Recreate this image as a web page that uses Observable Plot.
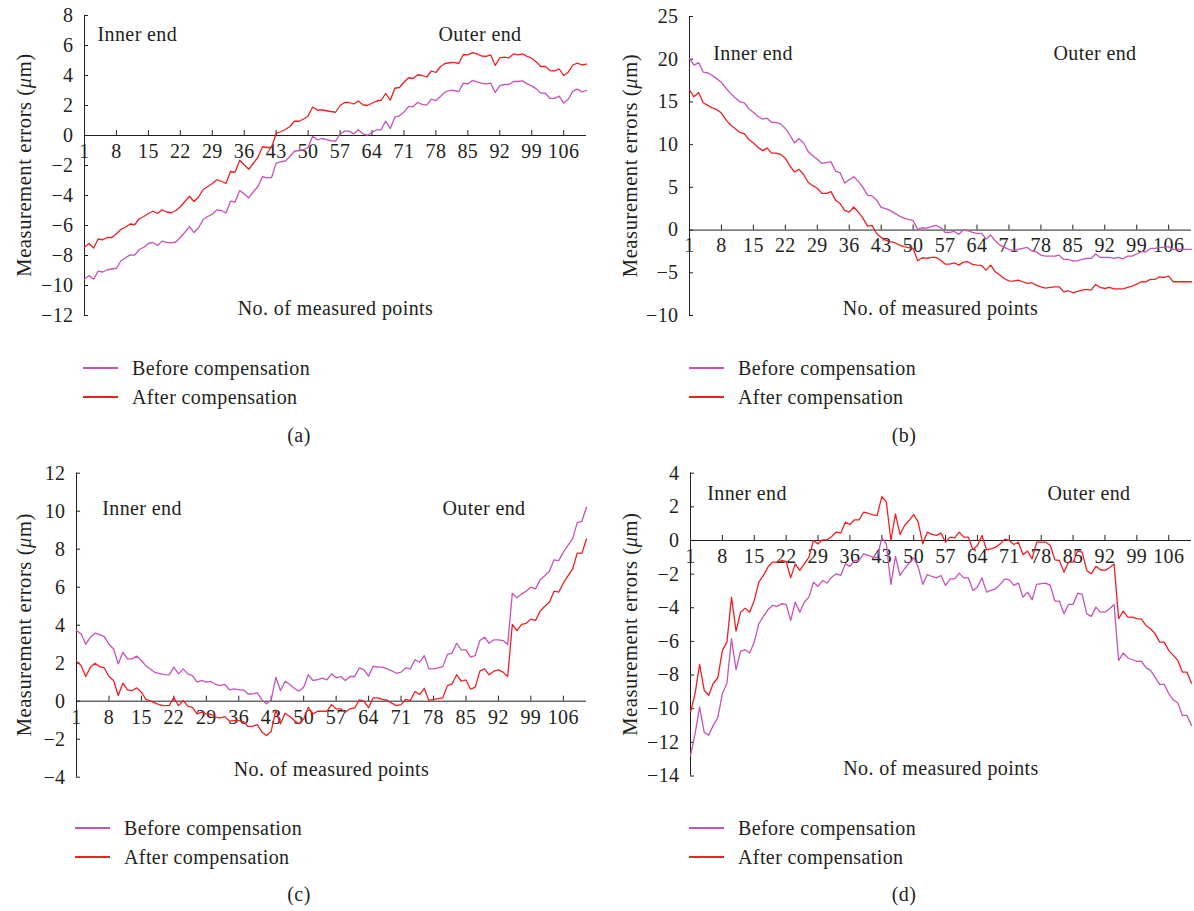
<!DOCTYPE html>
<html><head><meta charset="utf-8">
<script src="https://cdn.jsdelivr.net/npm/d3@7"></script>
<script src="https://cdn.jsdelivr.net/npm/@observablehq/plot@0.6"></script>
<style>
body{margin:0;background:#fff;}
#page{position:relative;width:1194px;height:911px;font-family:"Liberation Serif",serif;color:#231f20;letter-spacing:0.4px;background:#fff;}
.panel{position:absolute;}
.row{position:absolute;height:20px;display:flex;align-items:center;font-size:20px;white-space:nowrap;}
.sw{display:inline-block;width:35px;height:1.5px;margin-right:14px;}
.cap{position:absolute;font-size:20px;transform:translate(-50%,-50%);white-space:nowrap;}
</style></head><body><div id="page"></div>
<script>
// ---- data ----
const pointNo = d3.range(1, 112); // measured points 1..111
const xTickLabels = [1, 8, 15, 22, 29, 36, 43, 50, 57, 64, 71, 78, 85, 92, 99, 106];
const seriesNames = ["Before compensation", "After compensation"];
const panelLetters = ["(a)", "(b)", "(c)", "(d)"];

const yTicksA = [8, 6, 4, 2, 0, -2, -4, -6, -8, -10, -12];
const yTicksB = [25, 20, 15, 10, 5, 0, -5, -10];
const yTicksC = [12, 10, 8, 6, 4, 2, 0, -2, -4];
const yTicksD = [4, 2, 0, -2, -4, -6, -8, -10, -12, -14];

const beforeA = [-9.56,-9.33,-9.58,-9.04,-9.1,-8.95,-8.9,-8.85,-8.35,-8.15,
-7.96,-7.98,-7.6,-7.45,-7.2,-7.13,-7.33,-7.04,-7.13,-7.16,
-7.1,-6.8,-6.45,-6.07,-6.47,-6.15,-5.6,-5.4,-5.25,-4.96,
-5.0,-5.16,-4.38,-4.44,-3.67,-3.89,-4.16,-3.75,-3.4,-2.75,
-2.82,-2.8,-1.84,-1.75,-1.7,-1.4,-1.05,-1.0,-0.95,-0.78,
-0.05,-0.29,-0.2,-0.28,-0.35,-0.38,0.1,0.29,0.29,0.11,
0.38,0.11,0.02,0.2,0.38,0.38,0.96,0.47,1.22,1.31,
1.56,1.93,1.93,2.2,2.07,2.02,2.42,2.33,2.6,2.89,
3.0,3.0,2.93,3.49,3.44,3.67,3.58,3.49,3.44,3.49,
2.87,3.33,3.4,3.4,3.6,3.6,3.64,3.44,3.31,3.11,
2.82,2.82,2.47,2.47,2.62,2.16,2.42,2.96,3.09,2.91,
3.0];
const afterA = [-7.44,-7.2,-7.5,-6.9,-6.95,-6.8,-6.8,-6.55,-6.25,-6.1,
-5.9,-5.95,-5.55,-5.4,-5.2,-5.05,-5.2,-4.95,-5.1,-5.15,
-5.0,-4.75,-4.4,-4.05,-4.4,-4.1,-3.6,-3.4,-3.2,-2.95,
-3.05,-3.2,-2.4,-2.45,-1.65,-1.95,-2.25,-1.85,-1.45,-0.75,
-0.8,-0.8,0.15,0.25,0.4,0.6,0.95,0.95,1.1,1.3,
1.9,1.7,1.7,1.65,1.6,1.55,2.0,2.2,2.2,2.1,
2.3,2.05,2.0,2.15,2.3,2.35,2.8,2.35,3.15,3.2,
3.55,3.85,3.8,4.05,4.0,3.9,4.3,4.2,4.6,4.8,
4.85,4.87,4.8,5.4,5.38,5.53,5.44,5.3,5.27,5.38,
4.67,5.18,5.22,5.18,5.44,5.38,5.44,5.27,5.15,4.9,
4.6,4.6,4.33,4.3,4.44,4.0,4.22,4.7,4.82,4.7,
4.76];

const beforeB = [20.1,19.3,19.6,18.5,18.4,18.1,17.7,17.3,16.6,16.0,
15.5,15.05,14.9,14.2,13.8,13.3,13.0,13.1,12.6,12.6,
12.4,11.9,11.1,10.2,10.7,10.2,9.2,8.7,8.3,7.8,
7.9,8.0,6.9,6.7,5.5,5.9,6.25,5.7,5.0,4.1,
4.0,3.5,2.66,2.5,2.27,1.95,1.64,1.4,1.25,1.1,
0.08,0.27,0.23,0.39,0.55,0.3,-0.27,-0.27,-0.16,-0.5,
0.0,-0.08,-0.27,-0.39,-0.39,-1.05,-0.59,-1.25,-1.76,-2.03,
-2.27,-2.42,-2.27,-2.15,-2.03,-2.42,-2.54,-2.93,-3.05,-3.05,
-3.05,-2.93,-3.44,-3.44,-3.6,-3.6,-3.44,-3.32,-3.32,-2.8,
-3.2,-3.2,-3.2,-3.32,-3.2,-3.36,-3.05,-3.05,-2.8,-2.54,
-2.54,-2.15,-2.15,-2.03,-2.03,-1.95,-2.27,-2.27,-2.27,-2.27,
-2.27];
const afterB = [16.4,15.6,16.1,14.9,14.6,14.3,14.1,13.7,12.9,12.3,
11.9,11.45,11.3,10.6,10.2,9.7,9.3,9.6,9.0,9.0,
8.85,8.4,7.5,6.8,7.1,6.5,5.6,5.2,4.9,4.3,
4.3,4.5,3.5,3.1,2.3,2.1,2.7,2.1,1.4,0.47,
0.55,-0.4,-0.86,-1.17,-1.35,-1.48,-1.76,-1.95,-2.05,-2.15,
-3.6,-3.24,-3.32,-3.2,-3.2,-3.5,-3.98,-3.98,-3.83,-4.1,
-3.75,-3.71,-4.02,-4.1,-4.14,-4.69,-4.1,-4.88,-5.27,-5.7,
-5.94,-5.98,-5.86,-6.05,-6.25,-6.17,-6.45,-6.64,-6.8,-6.72,
-6.64,-6.64,-7.23,-7.1,-7.34,-7.19,-7.03,-6.95,-7.03,-6.37,
-6.72,-6.84,-6.72,-6.88,-6.88,-6.88,-6.72,-6.56,-6.33,-6.05,
-6.05,-5.78,-5.78,-5.47,-5.55,-5.39,-6.05,-6.05,-6.05,-6.05,
-6.05];

const beforeC = [3.72,3.54,3.0,3.37,3.58,3.5,3.4,3.0,2.75,1.96,
2.58,2.23,2.23,2.37,2.14,1.85,1.68,1.5,1.45,1.4,
1.39,1.79,1.44,1.7,1.44,1.35,1.0,1.1,1.0,1.04,
0.88,0.82,0.88,0.6,0.65,0.6,0.6,0.38,0.39,0.44,
0.07,-0.14,0.07,1.26,0.56,1.05,0.88,0.67,0.53,0.74,
1.39,1.09,1.14,1.21,1.12,1.44,1.23,1.3,1.09,1.3,
1.3,1.75,1.65,1.32,1.84,1.79,1.79,1.7,1.6,1.47,
1.53,1.75,1.7,2.18,2.05,2.4,1.7,1.7,1.75,1.82,
2.46,2.53,3.05,2.7,2.7,2.32,2.4,3.19,3.37,3.05,
3.23,3.23,3.19,2.98,5.68,5.44,5.65,5.79,6.0,5.91,
6.39,6.6,6.84,7.44,7.4,7.84,8.2,8.54,9.4,9.47,
10.21];
const afterC = [2.1,1.88,1.3,1.79,2.0,1.82,1.75,1.3,1.09,0.3,
0.95,0.6,0.56,0.7,0.47,0.1,0.0,-0.1,-0.2,-0.23,
-0.23,0.21,-0.23,0.04,-0.26,-0.32,-0.67,-0.58,-0.67,-0.7,
-0.84,-0.88,-0.81,-1.05,-1.02,-1.02,-1.07,-1.33,-1.32,-1.23,
-1.63,-1.81,-1.58,-0.46,-1.19,-0.63,-0.81,-1.02,-1.19,-0.93,
-0.32,-0.67,-0.53,-0.53,-0.53,-0.18,-0.4,-0.4,-0.58,-0.4,
-0.35,0.07,0.0,-0.35,0.18,0.18,0.1,0.05,-0.1,-0.23,
-0.18,0.1,0.04,0.51,0.35,0.68,0.04,0.1,0.14,0.18,
0.82,0.91,1.39,1.05,1.12,0.63,0.74,1.58,1.7,1.39,
1.58,1.65,1.53,1.3,4.04,3.72,4.04,4.1,4.32,4.25,
4.74,5.0,5.21,5.79,5.74,6.21,6.6,6.96,7.79,7.79,
8.54];

const beforeD = [-12.77,-11.5,-9.9,-11.39,-11.58,-10.99,-10.53,-9.1,-8.48,-5.84,
-7.68,-6.57,-6.5,-6.69,-6.04,-4.95,-4.51,-4.12,-3.86,-3.92,
-3.76,-3.8,-4.75,-3.66,-4.26,-3.66,-3.37,-2.48,-2.73,-2.38,
-2.53,-2.18,-1.98,-2.08,-1.39,-1.54,-1.19,-1.19,-0.79,-0.89,
-0.99,-1.0,0.16,-0.2,-2.61,-0.95,-2.08,-1.68,-1.35,-1.03,
-1.58,-2.61,-2.02,-2.14,-2.22,-2.08,-2.67,-2.28,-2.28,-1.94,
-2.22,-2.22,-2.97,-2.77,-2.22,-3.07,-2.97,-2.87,-2.61,-2.28,
-2.34,-2.67,-2.53,-3.37,-3.07,-3.52,-2.61,-2.57,-2.53,-2.67,
-3.6,-3.6,-4.36,-3.8,-3.8,-3.13,-3.21,-4.36,-4.51,-3.96,
-4.26,-4.26,-4.06,-3.8,-7.13,-6.69,-6.97,-7.09,-7.19,-7.17,
-7.56,-7.72,-8.12,-8.55,-8.55,-9.1,-9.47,-9.66,-10.4,-10.4,
-10.99];
const afterD = [-10.2,-9.1,-7.37,-8.9,-9.2,-8.5,-8.16,-6.53,-6.04,-3.37,
-5.39,-4.26,-4.02,-4.26,-3.56,-2.48,-2.08,-1.58,-1.29,-1.29,
-1.19,-1.25,-2.22,-1.39,-1.78,-1.39,-0.99,0.0,-0.2,0.04,
0.04,0.24,0.5,0.44,1.09,0.95,1.23,1.23,1.68,1.62,
1.52,1.5,2.61,2.28,0.0,1.58,0.36,0.89,1.2,1.54,
1.09,-0.2,0.5,0.36,0.3,0.44,-0.1,0.2,0.16,0.5,
0.2,0.2,-0.55,-0.3,0.3,-0.55,-0.5,-0.4,-0.2,0.08,
0.0,-0.24,-0.1,-0.85,-0.63,-1.09,-0.1,-0.1,-0.1,-0.3,
-1.15,-1.19,-1.88,-1.29,-1.29,-0.63,-0.69,-1.78,-1.98,-1.54,
-1.74,-1.78,-1.62,-1.39,-4.65,-4.2,-4.55,-4.55,-4.65,-4.67,
-5.05,-5.25,-5.54,-6.04,-6.04,-6.53,-6.83,-7.13,-7.82,-7.82,
-8.48];

// ---- styling / layout ----
const PURPLE = "#c653b6", RED = "#ee2024", INK = "#231f20";
const FONT = '"Liberation Serif", serif';

const panels = [
  {before: beforeA, after: afterA, yDomain: [-12, 8], yTicks: yTicksA, left: 0, top: 0,
   mt: 15, mb: 15, ml: 84, mr: 11, titleX: 31, inner: [13, 11.7], outer: [-65, 11.7],
   legX: 83, legY: [368, 397], cap: [299, 435]},
  {before: beforeB, after: afterB, yDomain: [-10, 25], yTicks: yTicksB, left: 597, top: 0,
   mt: 16, mb: 15, ml: 92, mr: 3, titleX: 39.5, inner: [23.7, 29.7], outer: [-55, 29.7],
   legX: 689, legY: [368, 397], cap: [904, 435]},
  {before: beforeC, after: afterC, yDomain: [-4, 12], yTicks: yTicksC, left: 0, top: 460,
   mt: 12.7, mb: 13.3, ml: 76, mr: 11, titleX: 31, inner: [25.7, 28], outer: [-61, 28],
   legX: 75, legY: [828, 857], cap: [299, 894]},
  {before: beforeD, after: afterD, yDomain: [-14, 4], yTicks: yTicksD, left: 597, top: 460,
   mt: 12.7, mb: 14.5, ml: 93, mr: 3, titleX: 39.5, inner: [16.7, 12.3], outer: [-61, 12.3],
   legX: 689, legY: [828, 857], cap: [904, 894]}
];

const page = document.getElementById("page");
const fmt = d => d < 0 ? "\u2212" + Math.abs(d) : String(d);
const W = 597, H = 330;

panels.forEach((cfg, k) => {
  const rows = pointNo.map((p, i) => ({p, before: cfg.before[i], after: cfg.after[i]}));
  const x0 = pointNo[0];
  const svg = Plot.plot({
    width: W, height: H,
    marginLeft: cfg.ml, marginRight: cfg.mr, marginTop: cfg.mt, marginBottom: cfg.mb,
    x: {domain: [pointNo[0], pointNo[pointNo.length - 1]], axis: null},
    y: {domain: cfg.yDomain, axis: null},
    style: {fontFamily: FONT, fontSize: "20px", color: INK, background: "transparent", overflow: "visible"},
    marks: [
      Plot.ruleX([x0], {stroke: INK, strokeWidth: 1}),
      Plot.ruleY([0], {stroke: INK, strokeWidth: 1}),
      Plot.ruleX(xTickLabels, {x: d => d, y1: () => 0, y2: () => 0, insetTop: -5, stroke: INK}),
      Plot.ruleY(cfg.yTicks, {y: d => d, x1: () => x0, x2: () => x0, insetRight: -4, stroke: INK}),
      Plot.text(cfg.yTicks, {x: () => x0, y: d => d, dx: -11, textAnchor: "end", text: fmt, fill: INK}),
      Plot.text(xTickLabels, {x: d => d, y: () => 0, dy: 16, text: d => String(d), fill: INK}),
      Plot.line(rows, {x: "p", y: "before", stroke: PURPLE, strokeWidth: 1.3}),
      Plot.line(rows, {x: "p", y: "after", stroke: RED, strokeWidth: 1.3}),
      Plot.text(["Inner end"], {text: d => d, frameAnchor: "top-left", dx: cfg.inner[0], dy: cfg.inner[1], textAnchor: "start", fill: INK}),
      Plot.text(["Outer end"], {text: d => d, frameAnchor: "top-right", dx: cfg.outer[0], dy: cfg.outer[1], textAnchor: "end", fill: INK}),
      Plot.text(["No. of measured points"], {text: d => d, frameAnchor: "bottom", dy: -1, fill: INK})
    ]
  });
  const cy = cfg.mt + (H - cfg.mt - cfg.mb) / 2;
  const t = d3.select(svg).append("text")
    .attr("transform", `translate(${cfg.titleX},${cy}) rotate(-90)`)
    .attr("text-anchor", "middle").attr("fill", INK)
    .style("font-size", "20.5px").style("letter-spacing", "0.6px");
  t.append("tspan").text("Measurement errors (");
  t.append("tspan").attr("font-style", "italic").text("\u03bc");
  t.append("tspan").text("m)");

  const wrap = document.createElement("div");
  wrap.className = "panel";
  wrap.style.left = cfg.left + "px";
  wrap.style.top = cfg.top + "px";
  wrap.appendChild(svg);
  page.appendChild(wrap);

  [PURPLE, RED].forEach((c, j) => {
    const row = document.createElement("div");
    row.className = "row";
    row.style.left = cfg.legX + "px";
    row.style.top = (cfg.legY[j] - 10) + "px";
    const sw = document.createElement("span");
    sw.className = "sw";
    sw.style.backgroundColor = c;
    row.appendChild(sw);
    row.appendChild(document.createTextNode(seriesNames[j]));
    page.appendChild(row);
  });

  const cap = document.createElement("div");
  cap.className = "cap";
  cap.style.left = cfg.cap[0] + "px";
  cap.style.top = cfg.cap[1] + "px";
  cap.textContent = panelLetters[k];
  page.appendChild(cap);
});
</script></body></html>
